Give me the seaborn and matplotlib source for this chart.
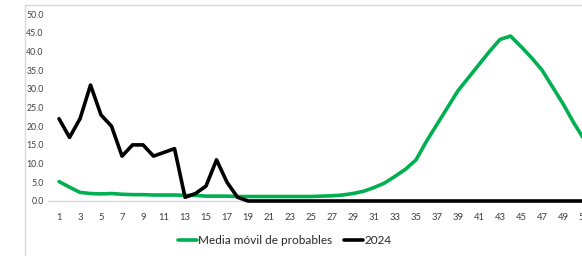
import pandas as pd
import matplotlib.pyplot as plt
import seaborn as sns
from matplotlib.patches import Rectangle

# Weekly data (epidemiological weeks)
weeks = list(range(1, 53))
media_movil = [5.2, 3.7, 2.3, 2.0, 1.9, 2.0, 1.8, 1.7, 1.7, 1.6,
               1.6, 1.6, 1.5, 1.5, 1.3, 1.3, 1.3, 1.2, 1.2, 1.2,
               1.2, 1.2, 1.2, 1.2, 1.2, 1.3, 1.4, 1.6, 2.0, 2.6,
               3.6, 4.8, 6.6, 8.5, 11.0, 16.0, 20.5, 25.0, 29.5, 33.0,
               36.5, 40.0, 43.2, 44.1, 41.3, 38.3, 35.0, 30.5, 26.0, 21.0,
               16.5, 12.0]
casos_2024 = [22, 17, 22, 31, 23, 20, 12, 15, 15, 12,
              13, 14, 1, 2, 4, 11, 5, 1, 0, 0,
              0, 0, 0, 0, 0, 0, 0, 0, 0, 0,
              0, 0, 0, 0, 0, 0, 0, 0, 0, 0,
              0, 0, 0, 0, 0, 0, 0, 0, 0, 0,
              0, 0]
series_names = ["Media móvil de probables", "2024"]
series_colors = ["#00B050", "#000000"]

df = pd.concat([
    pd.DataFrame({"semana": weeks, "valor": media_movil, "serie": series_names[0]}),
    pd.DataFrame({"semana": weeks, "valor": casos_2024, "serie": series_names[1]}),
])

sns.set_style("white")
plt.rcParams["font.family"] = ["Lato", "DejaVu Sans"]

fig = plt.figure(figsize=(5.82, 2.56), dpi=100)
# the original chart is cropped on the right, so the axes run past the figure edge
x0, x1 = -0.05, 52.5
px_per_week = 10.5
ax = fig.add_axes([48 / 582, 1 - 201 / 256, (x1 - x0) * px_per_week / 582, (201 - 14) / 256])

sns.lineplot(data=df, x="semana", y="valor", hue="serie",
             palette=dict(zip(series_names, series_colors)),
             linewidth=2.6, ax=ax, legend=True)

ax.set_xlim(x0, x1)
ax.set_ylim(0, 50)
ax.set_yticks(range(0, 51, 5))
ax.set_yticklabels([f"{v:.1f}" for v in range(0, 51, 5)], fontsize=6.3, color="#404040")
ax.set_xticks(weeks[::2])
ax.set_xticklabels([str(w) for w in weeks[::2]], fontsize=6.8, color="#404040")
ax.tick_params(axis="both", length=0, pad=3)
ax.tick_params(axis="x", pad=9)
ax.set_xlabel("")
ax.set_ylabel("")
for side in ["top", "right", "left"]:
    ax.spines[side].set_visible(False)
ax.spines["bottom"].set_color("#d9d9d9")
ax.spines["bottom"].set_linewidth(1)
ax.spines["bottom"].set_zorder(1)

# lines above the axis line, not clipped at y = 0
for line in ax.get_lines():
    line.set_zorder(3)
    line.set_clip_on(False)

handles, labels = ax.get_legend_handles_labels()
ax.legend(handles, labels, loc="center", bbox_to_anchor=(285 / 582, 1 - 241 / 256),
          bbox_transform=fig.transFigure, ncol=2, frameon=False, fontsize=8.5,
          handlelength=1.6, handletextpad=0.1, columnspacing=1.0)

# chart area border (cropped Excel chart)
fig.add_artist(Rectangle((25 / 582, -0.1), 1.0, 1 - 5 / 256 + 0.1,
                         transform=fig.transFigure, fill=False,
                         edgecolor="#d9d9d9", linewidth=1))

fig.savefig("out.png", dpi=100)
